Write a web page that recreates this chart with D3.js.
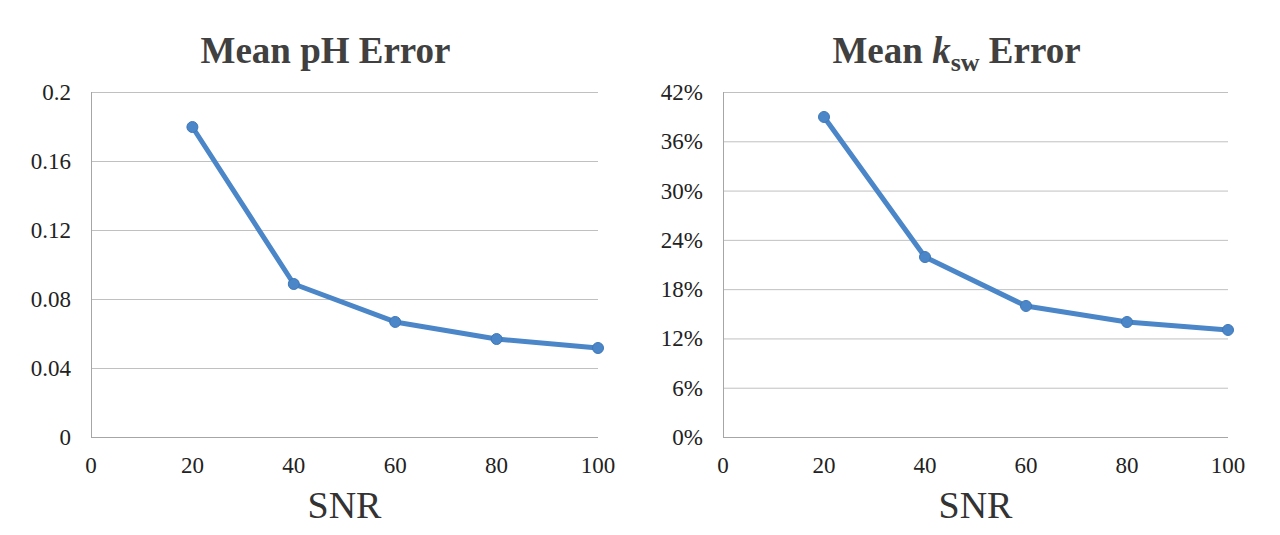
<!DOCTYPE html>
<html><head><meta charset="utf-8">
<script src="https://cdn.jsdelivr.net/npm/d3@7"></script>
<style>body{margin:0;background:#fff}svg{display:block}</style>
</head><body>
<svg id="c" width="1280" height="535"></svg>
<script>
const snr = [20, 40, 60, 80, 100];
const phError = [0.1797, 0.0887, 0.0667, 0.0568, 0.0516];
const kswError = [0.3896, 0.2191, 0.1595, 0.1400, 0.1303];
const xTicks = [0, 20, 40, 60, 80, 100];
const phTicks = [0, 0.04, 0.08, 0.12, 0.16, 0.2];
const kswTicks = [0, 0.06, 0.12, 0.18, 0.24, 0.30, 0.36, 0.42];

const svg = d3.select("#c");
const font = "'Liberation Serif','Times New Roman',serif";
const lineColor = "#4a86c8";

function panel(opts) {
  const g = svg.append("g");
  const x = d3.scaleLinear().domain([0, 100]).range([opts.x0, opts.x1]);
  const y = d3.scaleLinear().domain([0, opts.yMax]).range([437, 92]);
  g.selectAll(".grid").data(opts.yTicks.slice(1)).enter().append("line")
    .attr("x1", opts.x0).attr("x2", opts.x1)
    .attr("y1", d => y(d) + 0.5).attr("y2", d => y(d) + 0.5)
    .attr("stroke", "#c0c0c0").attr("stroke-width", 1);
  g.append("line").attr("x1", opts.x0 + 0.5).attr("x2", opts.x0 + 0.5)
    .attr("y1", 92).attr("y2", 437).attr("stroke", "#a6a6a6");
  g.append("line").attr("x1", opts.x0).attr("x2", opts.x1)
    .attr("y1", 437.5).attr("y2", 437.5).attr("stroke", "#a6a6a6");
  g.selectAll(".yl").data(opts.yTicks).enter().append("text")
    .attr("x", opts.x0 - 20).attr("y", d => y(d) + 8)
    .attr("text-anchor", "end").attr("font-family", font).attr("font-size", 23)
    .attr("fill", "#222").text(opts.fmt);
  g.selectAll(".xl").data(xTicks).enter().append("text")
    .attr("x", d => x(d)).attr("y", 473)
    .attr("text-anchor", "middle").attr("font-family", font).attr("font-size", 23)
    .attr("fill", "#222").text(d => d);
  g.append("text").attr("x", (opts.x0 + opts.x1) / 2).attr("y", 518)
    .attr("text-anchor", "middle").attr("font-family", font).attr("font-size", 38)
    .attr("fill", "#333").text("SNR");
  const t = g.append("text").attr("x", (opts.x0 + opts.x1) / 2 - 19).attr("y", 63)
    .attr("text-anchor", "middle").attr("font-family", font).attr("font-size", 37)
    .attr("font-weight", "bold").attr("fill", "#404040");
  opts.title(t);
  const data = snr.map((s, i) => [s, opts.values[i]]);
  g.append("path").datum(data)
    .attr("d", d3.line().x(d => x(d[0])).y(d => y(d[1])))
    .attr("fill", "none").attr("stroke", lineColor).attr("stroke-width", 5)
    .attr("stroke-linejoin", "round");
  g.selectAll(".pt").data(data).enter().append("circle")
    .attr("cx", d => x(d[0])).attr("cy", d => y(d[1])).attr("r", 5.5)
    .attr("fill", lineColor).attr("stroke", "#3f78b8").attr("stroke-width", 1);
}

panel({
  x0: 91, x1: 598, yMax: 0.2, yTicks: phTicks, values: phError,
  fmt: d => d === 0 ? "0" : d3.format(".2~f")(d),
  title: t => t.text("Mean pH Error")
});
panel({
  x0: 723, x1: 1228, yMax: 0.42, yTicks: kswTicks, values: kswError,
  fmt: d => Math.round(d * 100) + "%",
  title: t => {
    t.append("tspan").text("Mean ");
    t.append("tspan").attr("font-style", "italic").text("k");
    t.append("tspan").attr("font-size", 26).attr("dy", 8).text("sw");
    t.append("tspan").attr("dy", -8).text(" Error");
  }
});
</script>
</body></html>
